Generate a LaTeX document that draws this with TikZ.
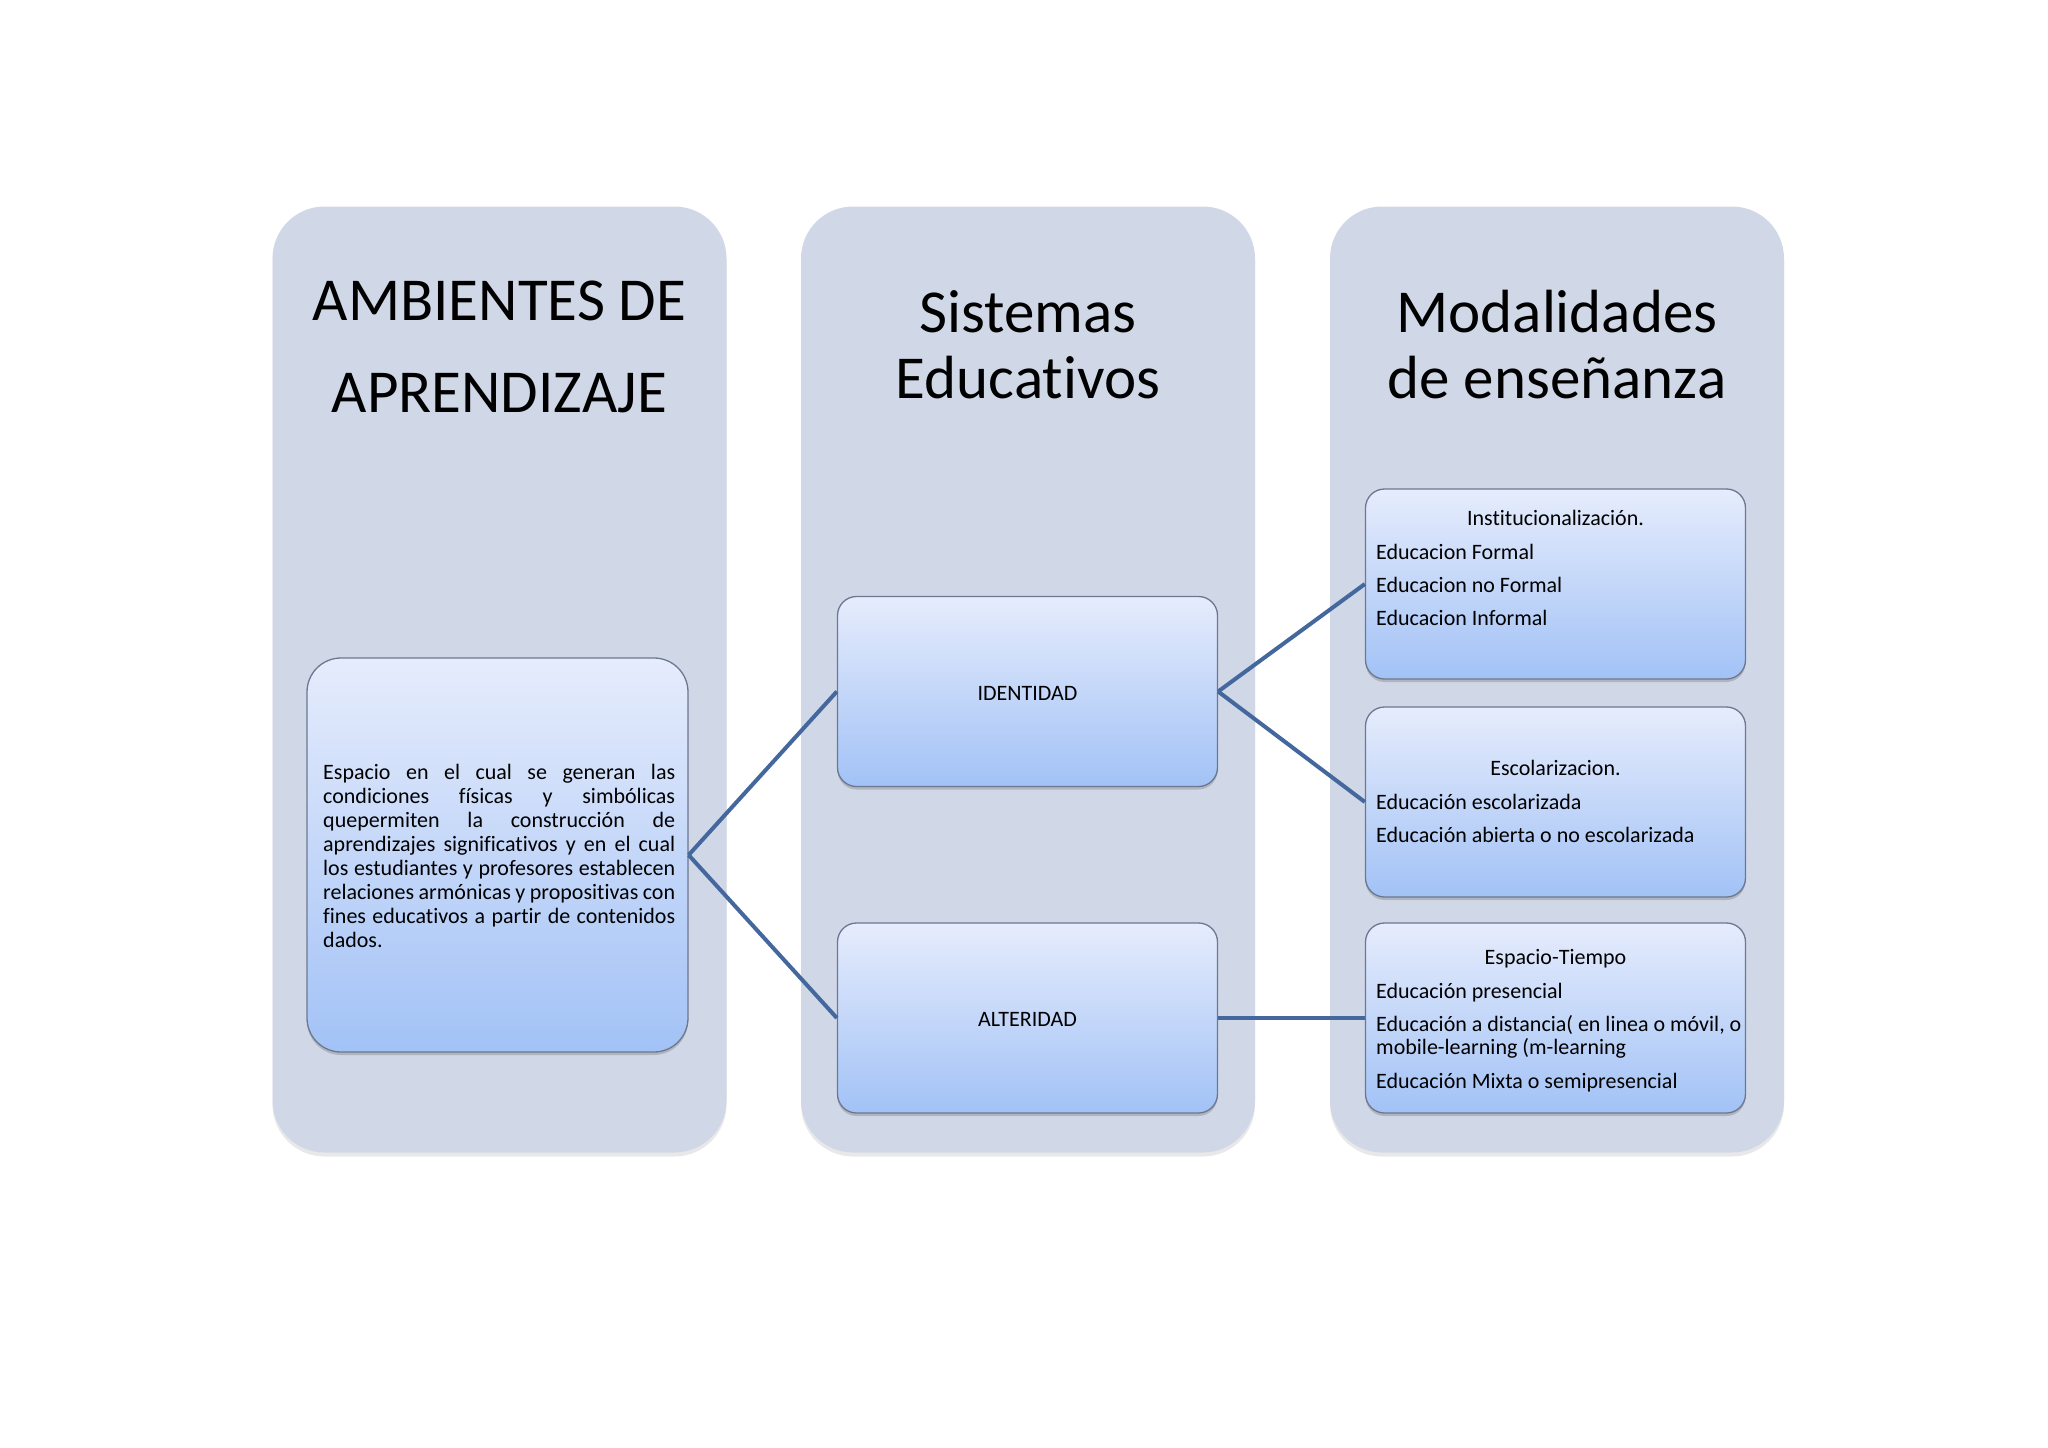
\documentclass[tikz,border=0pt]{standalone}
\usepackage{fontspec}
\setmainfont{Carlito}[Ligatures=NoCommon]
\usetikzlibrary{shadows}
\definecolor{colbg}{RGB}{208,216,232}
\definecolor{boxtop}{RGB}{230,236,252}
\definecolor{boxbot}{RGB}{162,194,246}
\definecolor{boxline}{RGB}{108,120,144}
\definecolor{conn}{RGB}{68,104,158}
\begin{document}
\begin{tikzpicture}[x=1pt,y=-1pt,
  column/.style={fill=colbg, draw=none, rounded corners=52pt, inner sep=0pt,
    minimum width=454pt, minimum height=946pt,
    drop shadow={opacity=0.18, shadow xshift=0pt, shadow yshift=-4pt}},
  box/.style={top color=boxtop, bottom color=boxbot, draw=boxline, line width=1.3pt,
    rounded corners=19pt, inner sep=0pt, minimum width=380pt, minimum height=190pt,
    drop shadow={opacity=0.4, shadow xshift=0pt, shadow yshift=-3pt}},
  bigbox/.style={box, rounded corners=34pt, minimum width=381pt, minimum height=394pt},
  title/.style={anchor=base, inner sep=0pt, font=\fontsize{61}{66}\selectfont},
  small/.style={anchor=base west, inner sep=0pt, font=\fontsize{22}{24}\selectfont},
  smallc/.style={small, anchor=base},
  conline/.style={draw=conn, line width=4pt}
]
\useasboundingbox (0,0) rectangle (2048,1448);
\fill[white] (0,0) rectangle (2048,1448);

% columns
\node[column] (c1) at (499.5,679.5) {};
\node[column] (c2) at (1028,679.5) {};
\node[column] (c3) at (1557,679.5) {};

% titles
\node[title] (t1a) at (499.5,320) {AMBIENTES DE};
\node[title] (t1b) at (499.5,412) {APRENDIZAJE};
\node[title] (t2a) at (1028,332) {Sistemas};
\node[title] (t2b) at (1028,398) {Educativos};
\node[title] (t3a) at (1557,332) {Modalidades};
\node[title] (t3b) at (1557,398) {de enseñanza};

% boxes
\node[bigbox] (L) at (497.5,855) {};
\node[box] (I) at (1027.5,691.5) {};
\node[box] (A) at (1027.5,1018) {};
\node[box] (R1) at (1555.5,584) {};
\node[box] (R2) at (1555.5,802) {};
\node[box] (R3) at (1555.5,1018) {};

% connectors
\draw[conline] (L.east) -- (I.west);
\draw[conline] (L.east) -- (A.west);
\draw[conline] (I.east) -- (R1.west);
\draw[conline] (I.east) -- (R2.west);
\draw[conline] (A.east) -- (R3.west);

% left text
\node[anchor=base west, inner sep=0pt, align=left, font=\fontsize{22}{24}\selectfont] (Ltxt) at (323,947)
{\makebox[352pt][s]{Espacio en el cual se generan las}\\
 \makebox[352pt][s]{condiciones físicas y simbólicas}\\
 \makebox[352pt][s]{quepermiten la construcción de}\\
 \makebox[352pt][s]{aprendizajes significativos y en el cual}\\
 \makebox[352pt][s]{los estudiantes y profesores establecen}\\
 \makebox[352pt][s]{relaciones armónicas y propositivas con}\\
 \makebox[352pt][s]{fines educativos a partir de contenidos}\\
 dados.};

% middle labels
\node[anchor=base, inner sep=0pt, font=\fontsize{22}{24}\selectfont] (Itxt) at (1027.5,700) {IDENTIDAD};
\node[anchor=base, inner sep=0pt, font=\fontsize{22}{24}\selectfont] (Atxt) at (1027.5,1026) {ALTERIDAD};

% right box 1
\node[smallc] (r1h) at (1555.5,525) {Institucionalización.};
\node[small] (r1a) at (1376,559) {Educacion Formal};
\node[small] (r1b) at (1376,592) {Educacion no Formal};
\node[small] (r1c) at (1376,625) {Educacion Informal};

% right box 2
\node[smallc] (r2h) at (1555.5,775) {Escolarizacion.};
\node[small] (r2a) at (1376,809) {Educación escolarizada};
\node[small] (r2b) at (1376,842) {Educación abierta o no escolarizada};

% right box 3
\node[smallc] (r3h) at (1555.5,964) {Espacio-Tiempo};
\node[small] (r3a) at (1376,998) {Educación presencial};
\node[small] (r3b) at (1376,1031) {Educación a distancia( en linea o móvil, o};
\node[small] (r3c) at (1376,1054) {mobile-learning (m-learning};
\node[small] (r3d) at (1376,1088) {Educación Mixta o semipresencial};
\end{tikzpicture}
\end{document}
